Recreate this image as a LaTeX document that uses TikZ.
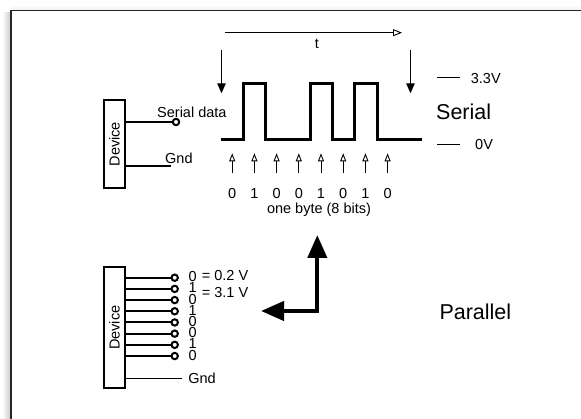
\documentclass[tikz,border=0pt]{standalone}
\usepackage{fontspec}
\setmainfont{Liberation Sans}
\usetikzlibrary{arrows.meta,positioning}

\begin{document}
\begin{tikzpicture}[
    x=1pt, y=-1pt,
    devbox/.style={rectangle, draw, line width=2pt, minimum width=21.5pt, inner sep=0pt},
    pin/.style={circle, draw, line width=2pt, fill=white, minimum size=6.4pt, inner sep=0pt},
    wire/.style={line width=2pt},
    lbl/.style={font=\fontsize{14.5}{16}\selectfont, inner sep=0pt},
    biglbl/.style={font=\fontsize{21.5}{24}\selectfont, inner sep=0pt},
    upmark/.style={-{Triangle[open, length=8pt, width=6pt]}, line width=0.9pt},
    downmark/.style={-{Triangle[length=10pt, width=8.5pt]}, line width=1.2pt},
    fat/.style={{Triangle[length=23pt, width=19pt]}-{Triangle[length=23pt, width=19pt]}, line width=4pt}
]
    \useasboundingbox (0,0) rectangle (581,419);

    % frame with a soft shadow
    \foreach \k in {1,...,8}
        \draw [line width=1pt, black, opacity={0.22*(1-\k/9)}] (11-\k,12) -- (11-\k,430);
    \foreach \k in {1,...,4}
        \draw [line width=1pt, black, opacity={0.06*(1-\k/5)}] (11,10.7-\k) -- (600,10.7-\k);
    \draw [line width=1.5pt, black!85] (600,10.7) -- (11,10.7) -- (11,440);

    % serial
    \node [devbox, minimum height=88pt] (dev1) at (114.35,144.3) {};
    \node [lbl, rotate=90] (dlab1) at (dev1) {Device};
    \node [pin] (sd) at (176,122) {};
    \draw [wire] (dev1.east |- sd) -- (sd);
    \node [lbl, anchor=base west] (sdlab) at (157,117.5) {Serial data};
    \coordinate (gnd1) at (170.7,166);
    \draw [wire] (dev1.east |- gnd1) -- (gnd1);
    \node [lbl, anchor=base west] (gndlab1) at (165,163.3) {Gnd};

    \coordinate (ts) at (225,32.7);
    \coordinate (te) at (402,32.7);
    \draw [-{Triangle[open, length=9pt, width=7pt]}, line width=0.9pt] (ts) -- (te);
    \node [lbl, anchor=base] (tlab) at (317,48.3) {t};
    \coordinate (da) at (221.5,50);
    \coordinate (db) at (410.5,50);
    \draw [downmark] (da) -- ++(0,43.3);
    \draw [downmark] (db) -- ++(0,43.3);

    \draw [line width=3pt] (220.7,139.3) -| (243.3,83.3) -| (265.6,139.3) -| (310.2,83.3)
        -| (332.5,139.3) -| (354.8,83.3) -| (377.1,139.3) -- (422,139.3);

    \foreach \b [count=\i from 0] in {0,1,0,0,1,0,1,0} {
        \coordinate (tk\i) at (232.2+22.2*\i,172.7);
        \draw [upmark] (tk\i) -- ++(0,-19.4);
        \node [lbl, anchor=base] (bit\i) at (232.2+22.2*\i,199) {\b};
    }
    \node [lbl, anchor=base] (byte) at (319,214) {one byte (8 bits)};

    \coordinate (hi) at (437.3,77.7);
    \coordinate (lo) at (437.3,144.3);
    \draw [line width=0.9pt] (hi) -- ++(22.7,0);
    \draw [line width=0.9pt] (lo) -- ++(22.7,0);
    \node [lbl, anchor=base west] (hilab) at (470.7,83.3) {3.3V};
    \node [lbl, anchor=base west] (lolab) at (475,150) {0V};
    \node [biglbl, anchor=base west] (serial) at (436,120) {Serial};

    % parallel
    \node [devbox, minimum height=121.5pt] (dev2) at (114.35,327.65) {};
    \node [lbl, rotate=90] (dlab2) at (dev2) {Device};
    \foreach \b [count=\i from 0] in {0,1,0,1,0,0,1,0} {
        \node [pin] (p\i) at (174.7,277.7+11.19*\i) {};
        \draw [wire] (dev2.east |- p\i) -- (p\i);
        \node [lbl, anchor=base west] (pb\i) at (188.3,281.7+11.19*\i) {\b};
    }
    \node [lbl, anchor=base west] (v0) at (201.7,281) {= 0.2 V};
    \node [lbl, anchor=base west] (v1) at (201.7,298) {= 3.1 V};
    \coordinate (gnd2) at (181.7,378.3);
    \draw [line width=0.9pt] (dev2.east |- gnd2) -- (gnd2);
    \node [lbl, right=6.5pt of gnd2] (gndlab2) {Gnd};
    \node [biglbl, anchor=base west] (parallel) at (439.3,320) {Parallel};

    \coordinate (corner) at (317.3,311);
    \draw [fat] (317.3,235) -- (corner) -- (261,311);
\end{tikzpicture}
\end{document}
